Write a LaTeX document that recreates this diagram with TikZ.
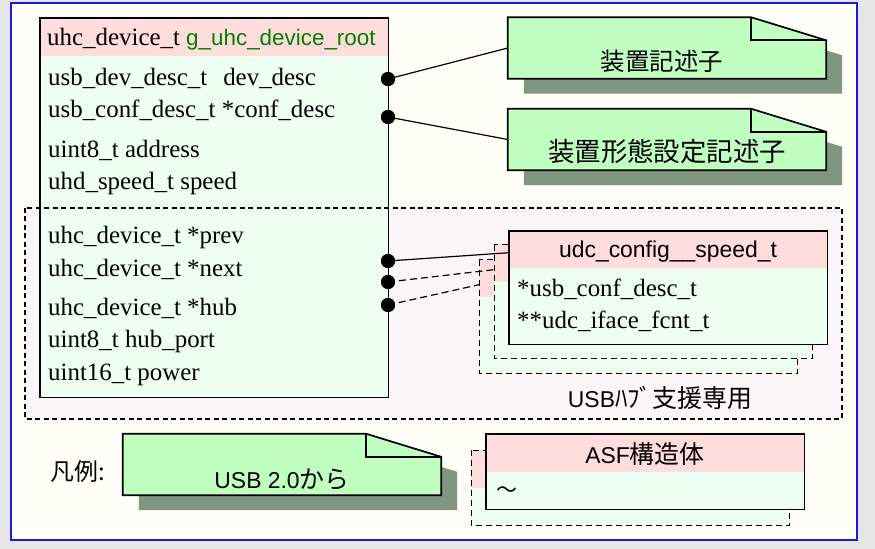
\documentclass[tikz,border=0pt]{standalone}
\usepackage{fontspec}
\setmainfont{Liberation Serif}
\newfontfamily\sansf{Liberation Sans}
\newfontfamily\jpf{Noto Sans CJK JP}
\usetikzlibrary{calc}

\definecolor{outerbg}{RGB}{230,230,230}
\definecolor{framefill}{RGB}{255,255,247}
\definecolor{frameblue}{RGB}{25,25,225}
\definecolor{regionfill}{RGB}{253,246,248}
\definecolor{headpink}{RGB}{255,221,221}
\definecolor{bodygreen}{RGB}{238,255,242}
\definecolor{notegreen}{RGB}{192,255,192}
\definecolor{noteshadow}{RGB}{128,150,128}
\definecolor{rootgreen}{RGB}{0,130,0}

% dog-eared note outline built on a named node
\newcommand\dogear[2]{%
  \path[#2] (#1.north west) -- ($(#1.north east)+(-75,0)$) -- ($(#1.north east)+(0,23)$)
    -- (#1.south east) -- (#1.south west) -- cycle;}
\newcommand\dogearshadow[1]{%
  \fill[noteshadow] ($(#1.north west)+(16,15)$) -- ($(#1.north east)+(-59,15)$) -- ($(#1.north east)+(16,38)$)
    -- ($(#1.south east)+(16,15)$) -- ($(#1.south west)+(16,15)$) -- cycle;}
\newcommand\dogearfold[1]{%
  \draw[noteline] ($(#1.north east)+(-75,0)$) |- ($(#1.north east)+(0,23)$);}

\newcommand\serifsz{\fontsize{25}{30}\selectfont}
\newcommand\sanssz{\sansf\fontsize{23}{28}\selectfont}

\begin{document}
\begin{tikzpicture}[x=1bp,y=-1bp,
  boxline/.style={draw=black, line width=1.7bp},
  noteline/.style={draw=black, line width=1.7bp, line join=miter},
  bodybox/.style={fill=bodygreen, inner sep=0, anchor=north west, minimum width=318bp},
  headbox/.style={fill=headpink, inner sep=0, anchor=north west, minimum width=318bp, minimum height=37bp},
  notebox/.style={inner sep=0, minimum width=318bp, minimum height=61bp},
  copyline/.style={draw=black, line width=1bp, dash pattern=on 6bp off 4bp},
  rowtext/.style={inner sep=0, anchor=base west, font=\serifsz},
  cjktext/.style={inner sep=0, anchor=center},
  dot/.style={circle, fill=black, inner sep=0, minimum size=14bp},
  link/.style={draw=black, line width=1.2bp},
  dashlink/.style={draw=black, line width=1.2bp, dash pattern=on 7bp off 4bp}]
\useasboundingbox (0,0) rectangle (875,549);

% page and frame
\fill[outerbg] (0,0) rectangle (875,549);
\draw[fill=framefill, draw=frameblue, line width=2bp] (10.5,3.5) rectangle (856.5,540);

% hub-only region background
\fill[regionfill] (25,208) rectangle (842,419);

% main structure uhc_device_t
\node[fill=bodygreen, inner sep=0, anchor=north west, minimum width=348bp, minimum height=379bp] (dev) at (40,18) {};
\node[fill=headpink, inner sep=0, anchor=north west, minimum width=348bp, minimum height=38bp] (devhead) at (40,18) {};
\draw[boxline] (dev.north west) rectangle (dev.south east);

% hub-only region border
\draw[line width=2bp, dash pattern=on 5bp off 3.5bp] (25,208) rectangle (842,419);

% notes
\node[notebox] (note1) at (667,48) {};
\node[notebox] (note2) at (667,139.5) {};
\dogearshadow{note1}
\dogearshadow{note2}
\dogear{note1}{fill=notegreen, noteline}
\dogear{note2}{fill=notegreen, noteline}
\dogearfold{note1}
\dogearfold{note2}
\node[cjktext, font=\jpf\fontsize{24.5}{26}\selectfont] (note1text) at (662,61) {装置記述子};
\node[cjktext, font=\jpf\fontsize{26.5}{28}\selectfont] (note2text) at (667,151.5) {装置形態設定記述子};

% udc_config_speed_t with its stacked copies
\node[bodybox, minimum height=113bp] (copyB) at (479,260) {};
\node[headbox] (copyBhead) at (479,260) {};
\draw[copyline] (copyB.north west) rectangle (copyB.south east);
\node[bodybox, minimum height=113bp] (copyA) at (494,245) {};
\node[headbox] (copyAhead) at (494,245) {};
\draw[copyline] (copyA.north west) rectangle (copyA.south east);
\node[bodybox, minimum height=113bp] (udc) at (509,231) {};
\node[headbox] (udchead) at (509,231) {};
\draw[boxline] (udc.north west) rectangle (udc.south east);

% field texts
\node[rowtext] (devtitle) at (47,46) {uhc\_device\_t {\sansf\fontsize{22.5}{27}\selectfont\color{rootgreen}g\_uhc\_device\_root}};
\node[rowtext] (f1) at (48,86) {usb\_dev\_desc\_t\hspace{16bp}dev\_desc};
\node[rowtext] (f2) at (48,118) {usb\_conf\_desc\_t *conf\_desc};
\node[rowtext] (f3) at (48,158) {uint8\_t address};
\node[rowtext] (f4) at (48,190) {uhd\_speed\_t speed};
\node[rowtext] (f5) at (48,244) {uhc\_device\_t *prev};
\node[rowtext] (f6) at (48,277) {uhc\_device\_t *next};
\node[rowtext] (f7) at (48,316) {uhc\_device\_t *hub};
\node[rowtext] (f8) at (48,348) {uint8\_t hub\_port};
\node[rowtext] (f9) at (48,380) {uint16\_t power};

\node[inner sep=0, anchor=base, font=\sanssz] (udctitle) at (668,258) {udc\_config\_\_speed\_t};
\node[rowtext] (u1) at (517,297) {*usb\_conf\_desc\_t};
\node[rowtext] (u2) at (517,329) {**udc\_iface\_fcnt\_t};

\node[cjktext] (hublabel) at (660,397.5) {\sanssz USB\jpf\fontsize{25}{27}\selectfont ﾊﾌﾞ支援専用};

% connectors
\node[dot] (p1) at (388,79) {};
\node[dot] (p2) at (388,117) {};
\node[dot] (p3) at (388,261) {};
\node[dot] (p4) at (388,282) {};
\node[dot] (p5) at (388,305) {};
\draw[link] (p1.center) -- (note1.west);
\draw[link] (p2.center) -- (note2.west);
\draw[link] (p3.center) -- ($(udchead.west)+(0,3)$);
\draw[dashlink] (p4.center) -- ($(copyAhead.west)+(0,6)$);
\draw[dashlink] (p5.center) -- ($(copyBhead.west)+(0,6)$);
\node[dot] at (p1) {};
\node[dot] at (p2) {};
\node[dot] at (p3) {};
\node[dot] at (p4) {};
\node[dot] at (p5) {};

% legend
\node[cjktext, font=\jpf\fontsize{24}{26}\selectfont] (legendlabel) at (78,471) {凡例:};
\node[notebox] (legnote) at (282,464.5) {};
\dogearshadow{legnote}
\dogear{legnote}{fill=notegreen, noteline}
\dogearfold{legnote}
\node[cjktext] (legnotetext) at (282,479) {\sanssz USB 2.0\jpf\fontsize{25}{27}\selectfont から};

\node[bodybox, minimum height=75bp] (asfcopy) at (471,450) {};
\node[headbox, minimum height=38bp] (asfcopyhead) at (471,450) {};
\draw[copyline] (asfcopy.north west) rectangle (asfcopy.south east);
\node[bodybox, minimum height=75bp] (asf) at (486,434) {};
\node[headbox, minimum height=38bp] (asfhead) at (486,434) {};
\draw[boxline] (asf.north west) rectangle (asf.south east);
\node[cjktext] (asftitle) at (645,454) {\sanssz ASF\jpf\fontsize{25}{27}\selectfont 構造体};
\node[cjktext, font=\jpf\fontsize{21}{23}\selectfont] (asftilde) at (507,492) {～};
\end{tikzpicture}
\end{document}
